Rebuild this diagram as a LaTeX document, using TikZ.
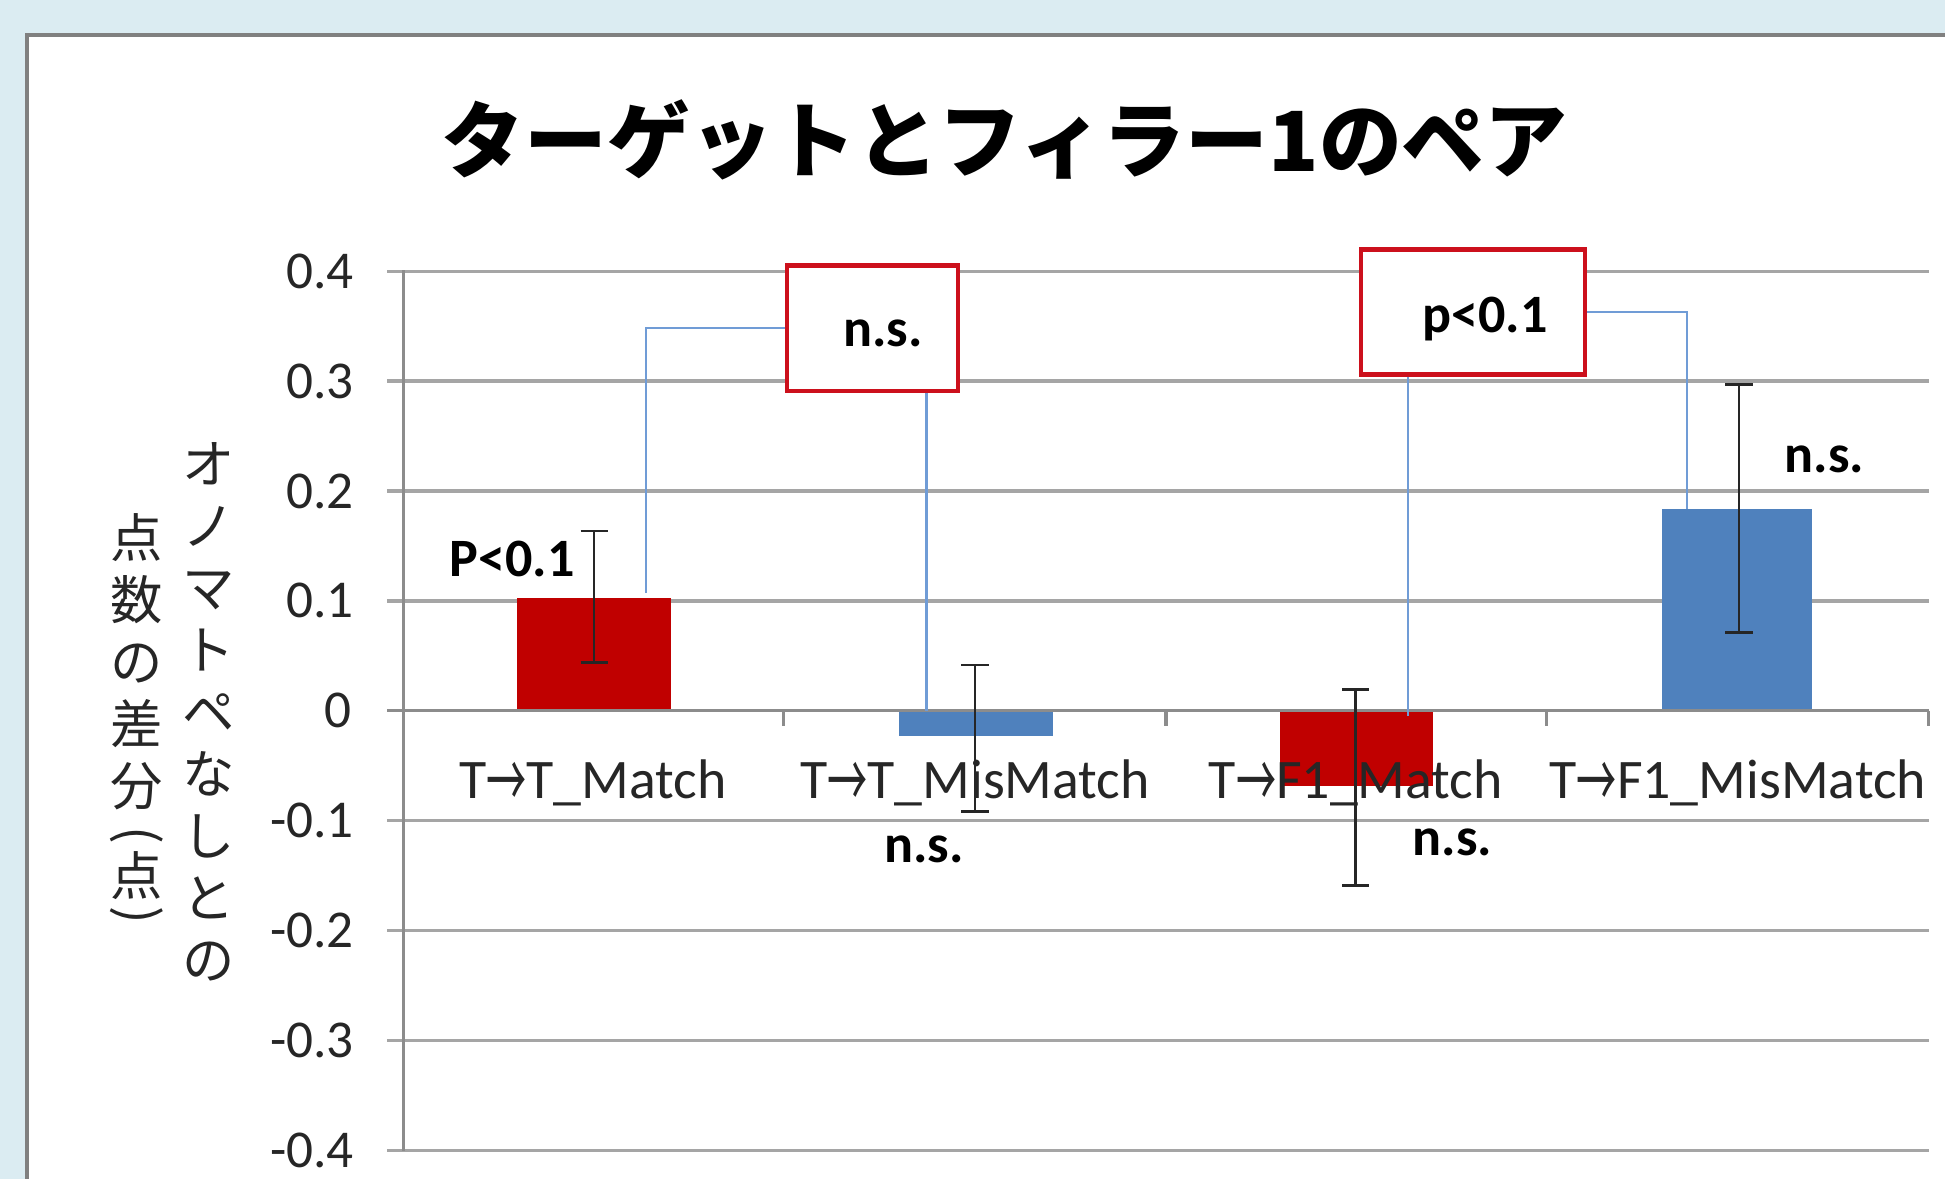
\documentclass[tikz,border=0pt]{standalone}
\usepackage{fontspec}
\usepackage{graphicx}
\setmainfont{Carlito}
\newfontfamily\jp{Noto Sans CJK JP}
\definecolor{bgc}{RGB}{219,236,242}
\definecolor{panelc}{RGB}{128,128,128}
\definecolor{gridc}{RGB}{165,165,165}
\definecolor{axisc}{RGB}{140,140,140}
\definecolor{redbar}{RGB}{192,0,0}
\definecolor{bluebar}{RGB}{79,129,189}
\definecolor{boxred}{RGB}{204,16,28}
\definecolor{connc}{RGB}{112,156,214}
\newcommand{\arr}{{\jp\raisebox{-2.2pt}{\scalebox{0.72}[1.35]{→}}}}
\begin{document}
\begin{tikzpicture}[x=0.1mm,y=-0.1mm,
  grid/.style={draw=gridc,line width=0.75pt},
  axisline/.style={draw=axisc,line width=0.7pt},
  ticklab/.style={anchor=east,inner sep=0pt,font=\fontsize{12.2}{14}\selectfont,text=black!85},
  catlab/.style={anchor=base,inner sep=0pt,font=\fontsize{12.8}{15}\selectfont,text=black!85},
  sig/.style={anchor=base,inner sep=0pt,font=\bfseries\fontsize{12.4}{15}\selectfont},
  sigbox/.style={draw=boxred,line width=1pt,fill=white,inner sep=0pt},
  conn/.style={draw=connc,line width=0.55pt},
  errbar/.style={draw=black!85,line width=0.6pt},
  ylab/.style={inner sep=0pt,align=center,font=\jp\fontsize{12}{14.23}\selectfont,text=black!85}
]
\useasboundingbox (0,0) rectangle (1568,950.4);
\fill[bgc] (0,0) rectangle (1568,950.4);
\fill[white] (22,28) rectangle (1568,950.4);
\draw[panelc,line width=1pt] (22,950.4) -- (22,28) -- (1568,28);

% title
\node[font=\jp\bfseries\fontsize{19}{22}\selectfont,inner sep=0pt] (title) at (810,113) {ターゲットとフィラー1のペア};

% gridlines and tick labels
\foreach \v/\t in {0.4/0.4,0.3/0.3,0.2/0.2,0.1/0.1,-0.1/-0.1,-0.2/-0.2,-0.3/-0.3,-0.4/-0.4}{
  \draw[grid] (312,{573-\v*886}) -- (1555,{573-\v*886});
  \node[ticklab] at (286,{573-\v*886}) {\t};
}
\node[ticklab] (tick0) at (284,573) {0};

% bars
\fill[redbar] (417,573) rectangle (541,482);
\fill[bluebar] (725,573) rectangle (849,593);
\fill[redbar] (1032,573) rectangle (1155,634);
\fill[bluebar] (1340,573) rectangle (1461,410);

% axes
\draw[axisline] (325,218) -- (325,928);
\draw[axisline] (312,573) -- (1555,573);
\foreach \x in {632,940,1247,1555}{\draw[axisline] (\x,573) -- (\x,585);}

% category labels
\node[catlab] (cat1) at (478,644) {T\arr T\_Match};
\node[catlab] (cat2) at (786,644) {T\arr T\_MisMatch};
\node[catlab] (cat3) at (1093,644) {T\arr F1\_Match};
\node[catlab] (cat4) at (1401,644) {T\arr F1\_MisMatch};

% error bars
\foreach \x/\a/\b in {479/428/534,786/536/654,1093/556/714,1402/310/510}{
  \draw[errbar] (\x,\a) -- (\x,\b);
  \draw[errbar] (\x-11,\a) -- (\x+11,\a);
  \draw[errbar] (\x-11,\b) -- (\x+11,\b);
}

% anchor coordinates on the bars
\coordinate (b1) at (521,478);
\coordinate (b2) at (747,573);
\coordinate (b3) at (1135,577);
\coordinate (b4) at (1360,410);

% significance boxes
\node[sigbox,minimum width=138*0.1mm,minimum height=101*0.1mm] (box1) at (703.5,264.5) {};
\node[sigbox,minimum width=181*0.1mm,minimum height=101*0.1mm] (box2) at (1187.5,251.5) {};
\node[sig] (ns1) at (712,279) {n.s.};
\node[sig] (p2) at (1197,268) {p<0.1};

% connectors
\draw[conn] (b1) |- (box1.west);
\draw[conn] (box1.south -| b2) -- (b2);
\draw[conn] (box2.south -| b3) -- (b3);
\draw[conn] (box2.east) -| (b4);

% other significance labels
\node[sig] (p1) at (413,465) {P<0.1};
\node[sig] (ns4) at (1471,381) {n.s.};
\node[sig] (ns2) at (745,695) {n.s.};
\node[sig] (ns3) at (1171,690) {n.s.};

% y-axis title (vertical)
\node[ylab,anchor=north] (ylabA) at (168,356) {オ\\ノ\\マ\\ト\\ペ\\な\\し\\と\\の};
\node[ylab,anchor=north] (ylabB) at (110,413) {点\\数\\の\\差\\分\\[-3.7pt]\rotatebox[origin=c]{-90}{(}\\[-4pt]点\\[-6pt]\rotatebox[origin=c]{-90}{)}};
\end{tikzpicture}
\end{document}
